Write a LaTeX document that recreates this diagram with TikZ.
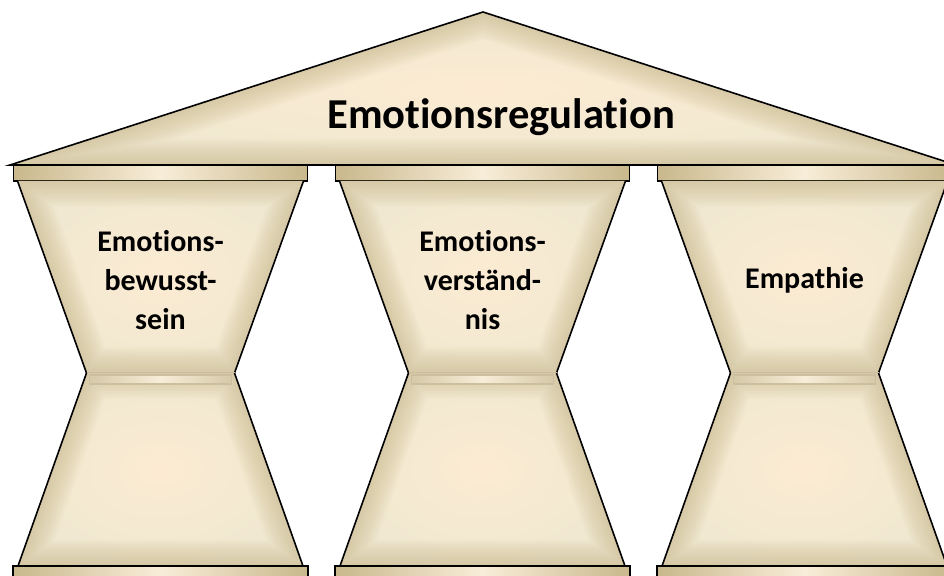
\documentclass[tikz,border=0pt]{standalone}
\usepackage{fontspec}
\setmainfont{Carlito}[Ligatures=NoCommon]
\definecolor{stoneedge}{HTML}{C9B88C}
\definecolor{stonebase}{HTML}{F0E8D1}
\definecolor{stonemid}{HTML}{FCEBD2}
\definecolor{stonebar}{HTML}{F8EDD8}
\definecolor{bandline}{HTML}{CBBF9F}

\tikzset{
  slab/.style={draw=black, line width=0.8pt, left color=stoneedge, right color=stoneedge, middle color=stonebar},
  shaft/.style={inner color=stonemid, outer color=stonebase},
  glow/.style={draw=stoneedge, opacity=0.06},
  band/.style={draw=bandline, line width=0.6pt, left color=stoneedge!75!white, right color=stoneedge!75!white, middle color=stonebar},
  headtext/.style={font=\bfseries\fontsize{21.3pt}{25pt}\selectfont},
  pillartext/.style={font=\bfseries\fontsize{15pt}{19.5pt}\selectfont, align=center}
}

% shaded stone face with a soft dark rim inside its border
\newcommand{\stoneface}[1]{%
  \begin{scope}
    \clip #1;
    \shade[shaft] #1;
    \foreach \w in {2,4,...,26}
      \draw[glow, line width=\w pt] #1;
  \end{scope}}

\begin{document}
\begin{tikzpicture}[x=0.5pt, y=-0.5pt, line width=0.8pt]

\useasboundingbox (0,0) rectangle (944,576);
\clip (0,0) rectangle (944,576);

% Roof
\stoneface{(10,165) -- (483,12) -- (956,165) -- cycle}
\draw (10,165) -- (483,12) -- (956,165) -- cycle;
\node[headtext] (regulation) at (501,117) {Emotionsregulation};

% Pillars
\foreach \cx/\name/\txt in {160.5/aware/{Emotions-\\bewusst-\\sein},
                            482.5/underst/{Emotions-\\verständ-\\nis},
                            804.5/empathy/{Empathie}}{
  % capital
  \draw[slab] (\cx-147,165) rectangle (\cx+147,181);
  % upper shaft
  \stoneface{(\cx-143,181) -- (\cx+143,181) -- (\cx+74,373) -- (\cx-74,373) -- cycle}
  \draw (\cx-143,181) -- (\cx-74,373);
  \draw (\cx+143,181) -- (\cx+74,373);
  % lower shaft
  \stoneface{(\cx-74,373) -- (\cx+74,373) -- (\cx+142.5,566) -- (\cx-142.5,566) -- cycle}
  \draw (\cx-74,373) -- (\cx-142.5,566);
  \draw (\cx+74,373) -- (\cx+142.5,566);
  \draw[bandline, line width=0.5pt] (\cx-74,373) -- (\cx+74,373);
  % ring between the shafts
  \draw[band] (\cx-71,375) rectangle (\cx+71,384);
  % base
  \draw[slab] (\cx-147.5,566) rectangle (\cx+147.5,590);
  % label
  \node[pillartext] (\name) at (\cx,280) {\txt};
}

\end{tikzpicture}
\end{document}
